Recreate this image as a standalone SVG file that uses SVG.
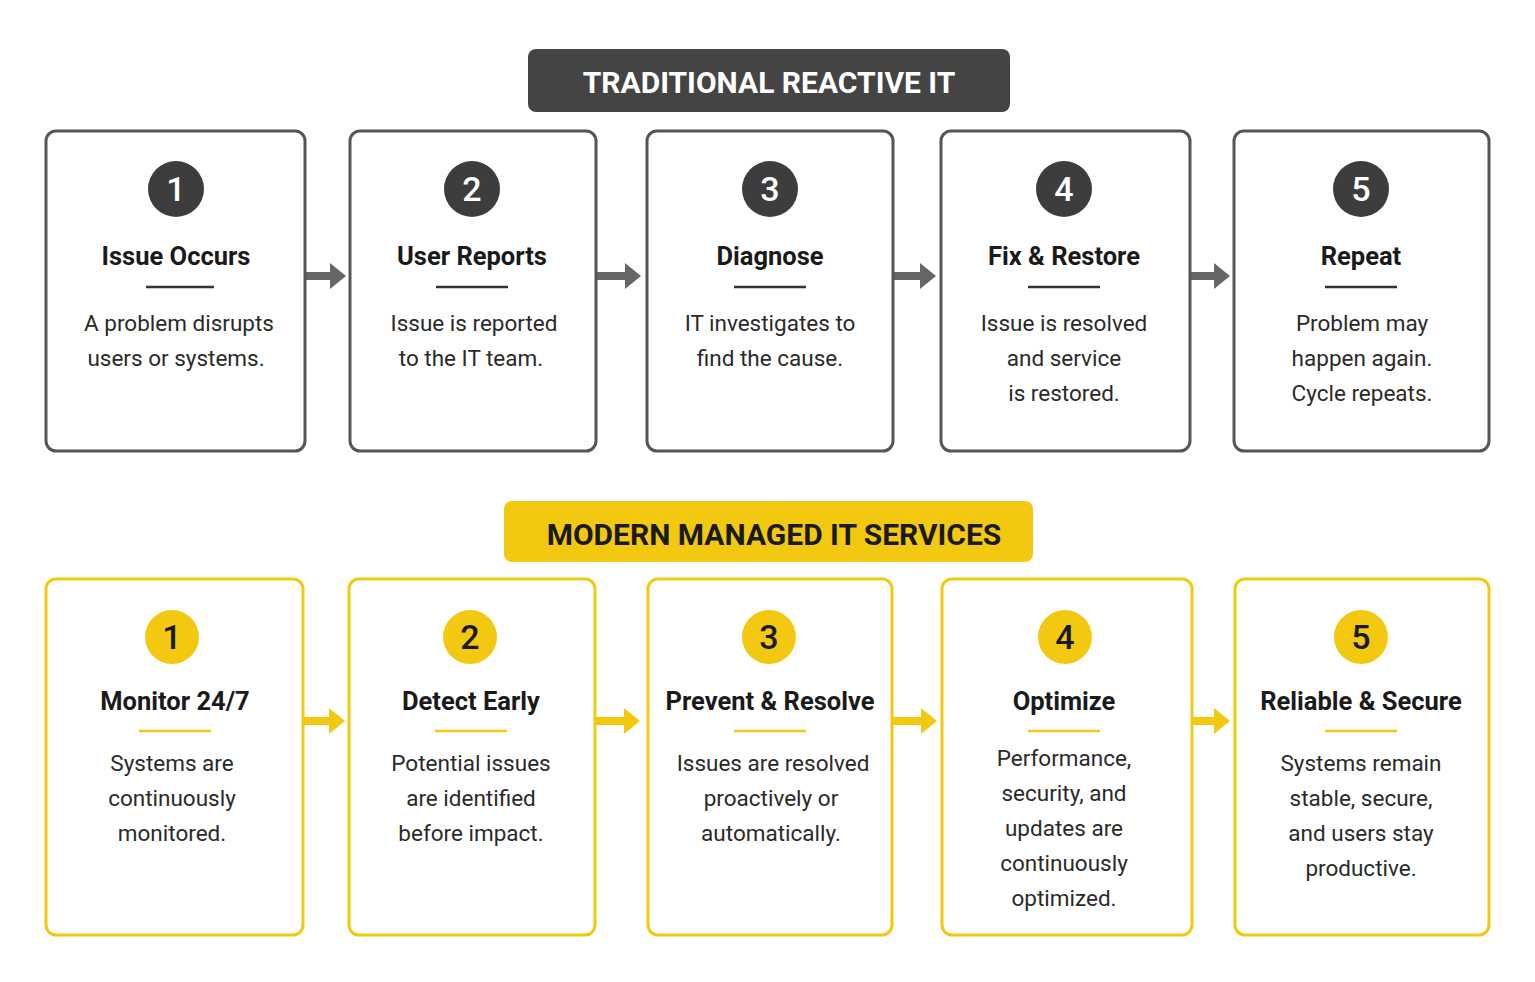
<svg xmlns="http://www.w3.org/2000/svg" width="1535" height="982" viewBox="0 0 1535 982">
<style>
.tb{fill:#fff;stroke:#555;stroke-width:3}
.yb{fill:#fff;stroke:#f2c811;stroke-width:3}
.tc{fill:#3d3d3d}
.yc{fill:#f2c811}
.num{font-family:Roboto,"Liberation Sans",sans-serif;font-size:34px;font-weight:500;text-anchor:middle}
.tt{font-family:Roboto,"Liberation Sans",sans-serif;font-size:25.5px;font-weight:bold;fill:#1a1a1a;text-anchor:middle}
.d{font-family:Roboto,"Liberation Sans",sans-serif;font-size:22.5px;fill:#2a2a2a;text-anchor:middle}
.ul{stroke:#333;stroke-width:2.5}
.yul{stroke:#f2c811;stroke-width:2.5}
.ta{fill:#666}
.ya{fill:#f2c811}
</style>
<rect width="1535" height="982" fill="#fff"/>
<g id="header-top"><rect x="528" y="49" width="482" height="63" rx="8" fill="#444"/><text x="769" y="93" font-family="Roboto,'Liberation Sans',sans-serif" font-size="30" font-weight="bold" fill="#fff" text-anchor="middle">TRADITIONAL REACTIVE IT</text></g>
<g id="header-bottom"><rect x="504" y="501" width="529" height="61" rx="8" fill="#f2c811"/><text x="774" y="545" font-family="Roboto,'Liberation Sans',sans-serif" font-size="30" font-weight="bold" fill="#1a1a1a" text-anchor="middle">MODERN MANAGED IT SERVICES</text></g>
<g id="connectors">
<polygon class="ta" points="306,272 330,272 330,263 346,276 330,289 330,280 306,280"/>
<polygon class="ta" points="597,272 625,272 625,263 641,276 625,289 625,280 597,280"/>
<polygon class="ta" points="894,272 920,272 920,263 936,276 920,289 920,280 894,280"/>
<polygon class="ta" points="1191,272 1214,272 1214,263 1230,276 1214,289 1214,280 1191,280"/>
<polygon class="ya" points="304,717 329,717 329,708 345,721 329,734 329,725 304,725"/>
<polygon class="ya" points="596,717 624,717 624,708 640,721 624,734 624,725 596,725"/>
<polygon class="ya" points="893,717 921,717 921,708 937,721 921,734 921,725 893,725"/>
<polygon class="ya" points="1193,717 1214,717 1214,708 1230,721 1214,734 1214,725 1193,725"/>
</g>
<g id="t1"><rect class="tb" x="46" y="131" width="259" height="320" rx="10"/><circle class="tc" cx="176" cy="189" r="28"/><text class="num" x="176" y="201" fill="#fff">1</text><text class="tt" x="176" y="265">Issue Occurs</text><line class="ul" x1="146" y1="287" x2="214" y2="287"/><text class="d" x="179" y="331">A problem disrupts</text><text class="d" x="176" y="366">users or systems.</text></g>
<g id="t2"><rect class="tb" x="350" y="131" width="246" height="320" rx="10"/><circle class="tc" cx="472" cy="189" r="28"/><text class="num" x="472" y="201" fill="#fff">2</text><text class="tt" x="472" y="265">User Reports</text><line class="ul" x1="436" y1="287" x2="508" y2="287"/><text class="d" x="474" y="331">Issue is reported</text><text class="d" x="471" y="366">to the IT team.</text></g>
<g id="t3"><rect class="tb" x="647" y="131" width="246" height="320" rx="10"/><circle class="tc" cx="770" cy="189" r="28"/><text class="num" x="770" y="201" fill="#fff">3</text><text class="tt" x="770" y="265">Diagnose</text><line class="ul" x1="734" y1="287" x2="806" y2="287"/><text class="d" x="770" y="331">IT investigates to</text><text class="d" x="770" y="366">find the cause.</text></g>
<g id="t4"><rect class="tb" x="941" y="131" width="249" height="320" rx="10"/><circle class="tc" cx="1064" cy="189" r="28"/><text class="num" x="1064" y="201" fill="#fff">4</text><text class="tt" x="1064" y="265">Fix &amp; Restore</text><line class="ul" x1="1028" y1="287" x2="1100" y2="287"/><text class="d" x="1064" y="331">Issue is resolved</text><text class="d" x="1064" y="366">and service</text><text class="d" x="1064" y="401">is restored.</text></g>
<g id="t5"><rect class="tb" x="1234" y="131" width="255" height="320" rx="10"/><circle class="tc" cx="1361" cy="189" r="28"/><text class="num" x="1361" y="201" fill="#fff">5</text><text class="tt" x="1361" y="265">Repeat</text><line class="ul" x1="1325" y1="287" x2="1397" y2="287"/><text class="d" x="1362" y="331">Problem may</text><text class="d" x="1362" y="366">happen again.</text><text class="d" x="1362" y="401">Cycle repeats.</text></g>
<g id="m1"><rect class="yb" x="46" y="579" width="257" height="356" rx="10"/><circle class="yc" cx="172" cy="637" r="27"/><text class="num" x="172" y="649" fill="#1a1a1a">1</text><text class="tt" x="175" y="710">Monitor 24/7</text><line class="yul" x1="139" y1="731" x2="211" y2="731"/><text class="d" x="172" y="771">Systems are</text><text class="d" x="172" y="806">continuously</text><text class="d" x="172" y="841">monitored.</text></g>
<g id="m2"><rect class="yb" x="349" y="579" width="246" height="356" rx="10"/><circle class="yc" cx="470" cy="637" r="27"/><text class="num" x="470" y="649" fill="#1a1a1a">2</text><text class="tt" x="471" y="710">Detect Early</text><line class="yul" x1="435" y1="731" x2="507" y2="731"/><text class="d" x="471" y="771">Potential issues</text><text class="d" x="471" y="806">are identified</text><text class="d" x="471" y="841">before impact.</text></g>
<g id="m3"><rect class="yb" x="648" y="579" width="244" height="356" rx="10"/><circle class="yc" cx="769" cy="637" r="27"/><text class="num" x="769" y="649" fill="#1a1a1a">3</text><text class="tt" x="770" y="710">Prevent &amp; Resolve</text><line class="yul" x1="734" y1="731" x2="806" y2="731"/><text class="d" x="773" y="771">Issues are resolved</text><text class="d" x="771" y="806">proactively or</text><text class="d" x="771" y="841">automatically.</text></g>
<g id="m4"><rect class="yb" x="942" y="579" width="250" height="356" rx="10"/><circle class="yc" cx="1065" cy="637" r="27"/><text class="num" x="1065" y="649" fill="#1a1a1a">4</text><text class="tt" x="1064" y="710">Optimize</text><line class="yul" x1="1028" y1="731" x2="1100" y2="731"/><text class="d" x="1064" y="766">Performance,</text><text class="d" x="1064" y="801">security, and</text><text class="d" x="1064" y="836">updates are</text><text class="d" x="1064" y="871">continuously</text><text class="d" x="1064" y="906">optimized.</text></g>
<g id="m5"><rect class="yb" x="1235" y="579" width="254" height="356" rx="10"/><circle class="yc" cx="1361" cy="637" r="27"/><text class="num" x="1361" y="649" fill="#1a1a1a">5</text><text class="tt" x="1361" y="710">Reliable &amp; Secure</text><line class="yul" x1="1325" y1="731" x2="1397" y2="731"/><text class="d" x="1361" y="771">Systems remain</text><text class="d" x="1361" y="806">stable, secure,</text><text class="d" x="1361" y="841">and users stay</text><text class="d" x="1361" y="876">productive.</text></g>
</svg>
